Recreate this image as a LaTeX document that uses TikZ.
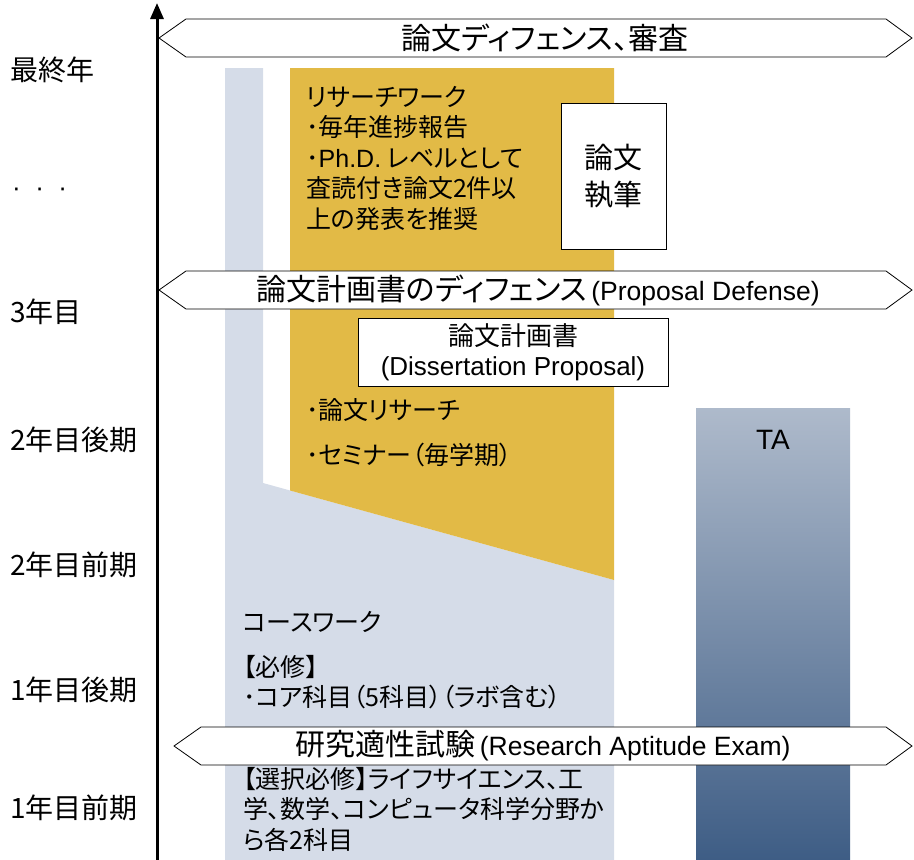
\documentclass[tikz,border=0pt]{standalone}
\usepackage{fontspec}
\setmainfont[RawFeature=+palt]{Noto Sans CJK JP}
\newfontfamily\lat{Liberation Sans}
\usetikzlibrary{arrows.meta}
\definecolor{bluegray}{RGB}{213,220,232}
\definecolor{gold}{RGB}{226,186,70}
\definecolor{tatop}{RGB}{174,186,203}
\definecolor{tabot}{RGB}{62,93,133}
\begin{document}
\begin{tikzpicture}[x=1pt,y=-1pt,
  hexa/.style={draw=black, line width=0.8pt, fill=white},
  lbl/.style={inner sep=0pt, font=\fontsize{30}{34}\selectfont},
  latlbl/.style={font=\lat\fontsize{26.5}{30}\selectfont},
  yearlbl/.style={inner sep=0pt, anchor=west, font=\fontsize{28}{34}\selectfont},
  body/.style={inner sep=0pt, anchor=west, align=left, font=\fontsize{25}{30.5}\selectfont},
  whitebox/.style={draw=black, line width=0.8pt, fill=white, inner sep=0pt, align=center}
]
\useasboundingbox (0,0) rectangle (914,860);
% regions
\fill[bluegray] (225,68) -- (263,68) -- (263,483) -- (614,580) -- (614,860) -- (225,860) -- cycle;
\fill[gold] (290,68) -- (614,68) -- (614,580) -- (290,490.5) -- cycle;
\shade[top color=tatop, bottom color=tabot] (696,408) rectangle (850,860);
\node[inner sep=0pt, font=\lat\fontsize{28}{32}\selectfont] (ta) at (773,440) {TA};
% boxes
\node[whitebox, minimum width=105pt, minimum height=146pt, font=\fontsize{29}{37}\selectfont] (write) at (613.5,176) {論文\\執筆};
\node[whitebox, minimum width=310pt, minimum height=68pt, font=\fontsize{26}{30}\selectfont] (dp) at (513,352) {論文計画書\\{\lat (Dissertation Proposal)}};
% hexagon arrows
\draw[hexa] (159,38) -- (186,19) -- (886,19) -- (912,38) -- (886,57) -- (186,57) -- cycle;
\node[lbl] (defense) at (545,38) {論文ディフェンス、審査};
\draw[hexa] (159,290) -- (186,271) -- (886,271) -- (912,290) -- (886,309) -- (186,309) -- cycle;
\node[lbl] (propdef) at (538,290) {論文計画書のディフェンス{\lat\fontsize{26.5}{30}\selectfont\,(Proposal Defense)}};
\draw[hexa] (174,746) -- (201,727) -- (886,727) -- (912,746) -- (886,765) -- (201,765) -- cycle;
\node[lbl] (exam) at (543,746) {研究適性試験{\lat\fontsize{26.5}{30}\selectfont\,(Research Aptitude Exam)}};
% gold texts
\node[body, anchor=north west] (rw) at (306,86) {リサーチワーク\\･毎年進捗報告\\･{\lat Ph.D.} レベルとして\\査読付き論文2件以\\上の発表を推奨};
\node[body] (res) at (306,410) {･論文リサーチ};
\node[body] (sem) at (306,455) {･セミナー（毎学期）};
% blue texts
\node[body] (cw) at (243,622) {コースワーク};
\node[body, anchor=north west] (req) at (243,655) {【必修】\\･コア科目（5科目）（ラボ含む）};
\node[body, anchor=north west] (elec) at (243,767) {【選択必修】ライフサイエンス、工\\学、数学、コンピュータ科学分野か\\ら各2科目};
% year labels
\node[yearlbl] (y6) at (10,70) {最終年};
\node[yearlbl, font=\lat\fontsize{26}{30}\selectfont] (y5) at (12,192) {·\ \ ·\ \ ·};
\node[yearlbl] (y4) at (10,312) {3年目};
\node[yearlbl] (y3) at (10,440) {2年目後期};
\node[yearlbl] (y2) at (10,565) {2年目前期};
\node[yearlbl] (y1) at (10,690) {1年目後期};
\node[yearlbl] (y0) at (10,808) {1年目前期};
% axis
\coordinate (axisbot) at (157,860);
\coordinate (axistop) at (157,3);
\draw[line width=3pt, -{Triangle[width=13pt,length=16pt]}] (axisbot) -- (axistop);
\end{tikzpicture}
\end{document}
